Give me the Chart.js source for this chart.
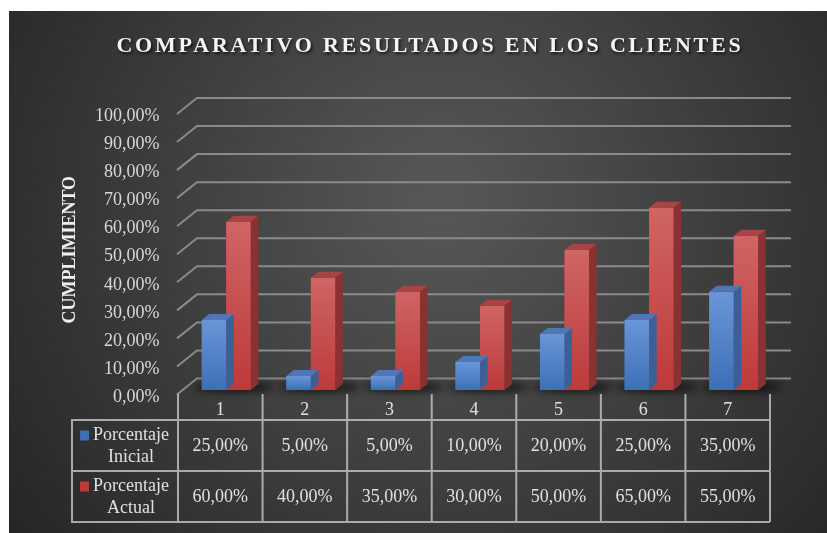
<!DOCTYPE html>
<html>
<head>
<meta charset="utf-8">
<script src="https://cdn.jsdelivr.net/npm/chart.js@4.4.1/dist/chart.umd.min.js"></script>
<style>
  html, body { margin: 0; padding: 0; background: #fff; }
</style>
</head>
<body>
<canvas id="barChart" width="827" height="533"></canvas>
<script>
// data
var categories = ['1', '2', '3', '4', '5', '6', '7'];
var porcentajeInicial = [25, 5, 5, 10, 20, 25, 35];
var porcentajeActual = [60, 40, 35, 30, 50, 65, 55];
var seriesNames = [['Porcentaje', 'Inicial'], ['Porcentaje', 'Actual']];
var chartTitle = 'COMPARATIVO RESULTADOS EN LOS CLIENTES';
var axisTitle = 'CUMPLIMIENTO';

var serif = "'Liberation Serif', 'Times New Roman', serif";

function fmt(v) {
  return v.toFixed(2).replace('.', ',') + '%';
}

// colors: [front top, front bottom, side, top face]
var faces = [
  ['#6a96d8', '#3d6fb6', '#3c5f98', '#4f77b3'],
  ['#cf6564', '#bd3a3a', '#8a3232', '#a84444']
];

var BAR_SHIFT = 6;

var background = {
  id: 'background',
  beforeDraw: function(chart) {
    var ctx = chart.ctx;
    ctx.save();
    ctx.fillStyle = '#fff';
    ctx.fillRect(0, 0, chart.width, chart.height);
    var g = ctx.createRadialGradient(440, 200, 20, 440, 220, 560);
    g.addColorStop(0, '#565656');
    g.addColorStop(1, '#232323');
    ctx.fillStyle = g;
    ctx.fillRect(9, 11, chart.width - 9, chart.height - 11);
    ctx.restore();
  }
};

// back wall grid lines, drawn from the y scale ticks
var backGrid = {
  id: 'backGrid',
  beforeDatasetsDraw: function(chart) {
    var ctx = chart.ctx, y = chart.scales.y, area = chart.chartArea;
    ctx.save();
    ctx.strokeStyle = '#8a8a8a';
    ctx.lineWidth = 2;
    y.ticks.forEach(function(t) {
      var py = y.getPixelForValue(t.value);
      ctx.beginPath();
      ctx.moveTo(area.left - 1, py + 4.5);
      ctx.lineTo(area.left + 19, py - 11.5);
      ctx.lineTo(area.right + 21, py - 11.5);
      ctx.stroke();
    });
    // floor shadows under the bars
    var m0 = chart.getDatasetMeta(0), m1 = chart.getDatasetMeta(1);
    ctx.filter = 'blur(4px)';
    ctx.fillStyle = 'rgba(0,0,0,0.7)';
    for (var i = 0; i < categories.length; i++) {
      var b0 = m0.data[i], b1 = m1.data[i];
      var l = b0.x - b0.width / 2 + BAR_SHIFT, r = b1.x + b1.width / 2 + BAR_SHIFT;
      ctx.beginPath();
      ctx.ellipse((l + r) / 2 + 8, b0.base - 3, (r - l) / 2 + 16, 5, 0, 0, Math.PI * 2);
      ctx.fill();
    }
    ctx.restore();
    ctx.save();
    ctx.translate(BAR_SHIFT, 0);
  },
  afterDatasetDraw: function(chart, args) {
    var ctx = chart.ctx, c = faces[args.index];
    args.meta.data.forEach(function(bar) {
      var l = bar.x - bar.width / 2, r = bar.x + bar.width / 2;
      var top = bar.y, base = bar.base, dx = 7.5, dy = -6;
      var g = ctx.createLinearGradient(0, top, 0, base);
      g.addColorStop(0, c[0]);
      g.addColorStop(1, c[1]);
      ctx.fillStyle = g;
      ctx.fillRect(l, top, r - l, base - top);
      ctx.fillStyle = c[2];
      ctx.beginPath();
      ctx.moveTo(r, top); ctx.lineTo(r + dx, top + dy);
      ctx.lineTo(r + dx, base + dy); ctx.lineTo(r, base);
      ctx.closePath(); ctx.fill();
      ctx.fillStyle = c[3];
      ctx.beginPath();
      ctx.moveTo(l, top); ctx.lineTo(l + dx, top + dy);
      ctx.lineTo(r + dx, top + dy); ctx.lineTo(r, top);
      ctx.closePath(); ctx.fill();
    });
  },
  afterDatasetsDraw: function(chart) {
    chart.ctx.restore();
  }
};

// data table under the plot
var dataTable = {
  id: 'dataTable',
  afterDraw: function(chart) {
    var ctx = chart.ctx, x = chart.scales.x, area = chart.chartArea;
    var n = categories.length, w = (area.right - area.left) / n;
    var head = area.bottom + 4, r1 = area.bottom + 30, r2 = area.bottom + 81, r3 = area.bottom + 132;
    var legendLeft = 72;
    ctx.save();
    ctx.strokeStyle = 'rgba(200,200,200,0.8)';
    ctx.lineWidth = 2;
    ctx.beginPath();
    for (var i = 0; i <= n; i++) {
      var px = area.left + i * w;
      ctx.moveTo(px, head); ctx.lineTo(px, r3);
    }
    [r1, r2, r3].forEach(function(py) {
      ctx.moveTo(legendLeft, py); ctx.lineTo(area.right, py);
    });
    ctx.moveTo(legendLeft, r1 - 1); ctx.lineTo(legendLeft, r3 + 1);
    ctx.stroke();

    ctx.fillStyle = '#e0e0e0';
    ctx.font = '18px ' + serif;
    ctx.textAlign = 'center';
    ctx.textBaseline = 'middle';
    var rows = [porcentajeInicial, porcentajeActual];
    var rowMid = [(r1 + r2) / 2 + 1, (r2 + r3) / 2 + 1];
    categories.forEach(function(cat, i) {
      var cx = x.getPixelForValue(i);
      ctx.fillText(cat, cx, (head + r1) / 2 + 3);
      rows.forEach(function(vals, k) {
        ctx.fillText(fmt(vals[i]), cx, rowMid[k]);
      });
    });
    // legend cells
    var legendCx = (legendLeft + area.left) / 2 + 6;
    rows.forEach(function(vals, k) {
      var y1 = rowMid[k] - 11, y2 = rowMid[k] + 11;
      ctx.fillStyle = '#e0e0e0';
      ctx.fillText(seriesNames[k][0], legendCx, y1);
      ctx.fillText(seriesNames[k][1], legendCx, y2);
      var tw = ctx.measureText(seriesNames[k][0]).width;
      ctx.fillStyle = faces[k][1];
      ctx.fillRect(legendCx - tw / 2 - 13, y1 - 5, 9, 10);
    });

    // chart title
    ctx.font = 'bold 22px ' + serif;
    ctx.letterSpacing = '2.8px';
    ctx.fillStyle = '#f4f4f4';
    ctx.shadowColor = 'rgba(0,0,0,0.7)';
    ctx.shadowOffsetX = 1.5;
    ctx.shadowOffsetY = 2;
    ctx.shadowBlur = 3;
    ctx.fillText(chartTitle, 430, 46);
    ctx.restore();
  }
};

var ctx = document.getElementById('barChart');
var barChart = new Chart(ctx, {
  type: 'bar',
  data: {
    labels: categories,
    datasets: [{
      label: seriesNames[0].join(' '),
      data: porcentajeInicial,
      backgroundColor: faces[0][1],
      clip: false
    }, {
      label: seriesNames[1].join(' '),
      data: porcentajeActual,
      backgroundColor: faces[1][1],
      clip: false
    }]
  },
  options: {
    responsive: false,
    animation: false,
    devicePixelRatio: 1,
    layout: {
      padding: { left: 60, top: 109.5, right: 57, bottom: 143 }
    },
    datasets: {
      bar: { barPercentage: 1, categoryPercentage: 0.58 }
    },
    plugins: {
      legend: { display: false },
      tooltip: { enabled: false }
    },
    scales: {
      x: {
        display: false
      },
      y: {
        min: 0,
        max: 100,
        afterFit: function(scale) { scale.width = 118; },
        grid: { display: false, drawTicks: false },
        border: { display: false },
        ticks: {
          stepSize: 10,
          padding: 18.5,
          labelOffset: 7,
          color: '#d9d9d9',
          font: { family: serif, size: 18 },
          callback: function(v) { return fmt(v); }
        },
        title: {
          display: true,
          text: axisTitle,
          padding: 0,
          color: '#efefef',
          font: { family: serif, size: 18, weight: 'bold' }
        }
      }
    }
  },
  plugins: [background, backGrid, dataTable]
});
</script>
</body>
</html>
